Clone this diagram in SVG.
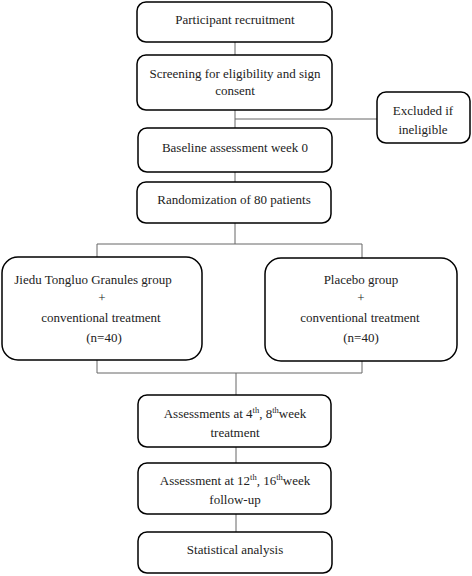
<svg xmlns="http://www.w3.org/2000/svg" width="472" height="576" viewBox="0 0 472 576">
<style>
.box{fill:#fff;stroke:#000;stroke-width:1.5}
.t{font-family:"Liberation Serif","Times New Roman",serif;font-size:13px;fill:#222;text-anchor:middle}
.sup{font-size:8.5px}
.c{stroke:#666;stroke-width:1;fill:none}
</style>
<rect width="472" height="576" fill="#fff"/>
<g id="connectors">
<path class="c" d="M235,42V55M235,110V128M235,119H377M235,172V182M235,223V244M97,244H362M97,244V257M362,244V258M97,360V373M362,361V373M97,373H362M236,373V395M236,447V463M236,514V532"/>
</g>
<g id="n1"><rect class="box" x="137" y="2" width="195" height="40" rx="9"/><text class="t" x="235" y="24">Participant recruitment</text></g>
<g id="n2"><rect class="box" x="137" y="55" width="195" height="55" rx="9"/><text class="t" x="235" y="77.5">Screening for eligibility and sign</text><text class="t" x="235" y="94.5">consent</text></g>
<g id="n3"><rect class="box" x="377" y="92" width="93" height="51" rx="9"/><text class="t" x="423" y="114.5">Excluded if</text><text class="t" x="423" y="133.5">ineligible</text></g>
<g id="n4"><rect class="box" x="138" y="128" width="194" height="44" rx="9"/><text class="t" x="235" y="151.5">Baseline assessment week 0</text></g>
<g id="n5"><rect class="box" x="137" y="182" width="194" height="41" rx="9"/><text class="t" x="234" y="203.5">Randomization of 80 patients</text></g>
<g id="n6"><rect class="box" x="2" y="257" width="200" height="103" rx="16"/><text class="t" x="93" y="283.5">Jiedu Tongluo Granules group</text><text class="t" x="102" y="301.5">+</text><text class="t" x="101" y="321.5">conventional treatment</text><text class="t" x="104" y="341.5">(n=40)</text></g>
<g id="n7"><rect class="box" x="265" y="258" width="192" height="103" rx="16"/><text class="t" x="361" y="283.5">Placebo group</text><text class="t" x="361" y="301.5">+</text><text class="t" x="360" y="321.5">conventional treatment</text><text class="t" x="361" y="341.5">(n=40)</text></g>
<g id="n8"><rect class="box" x="138" y="395" width="193" height="52" rx="9"/><text class="t" x="235" y="417.5">Assessments at 4<tspan class="sup" dy="-5">th</tspan><tspan dy="5">, 8</tspan><tspan class="sup" dy="-5">th</tspan><tspan dy="5">week</tspan></text><text class="t" x="235" y="436.5">treatment</text></g>
<g id="n9"><rect class="box" x="138" y="463" width="193" height="51" rx="9"/><text class="t" x="235" y="484.5">Assessment at 12<tspan class="sup" dy="-5">th</tspan><tspan dy="5">, 16</tspan><tspan class="sup" dy="-5">th</tspan><tspan dy="5">week</tspan></text><text class="t" x="235" y="503.5">follow-up</text></g>
<g id="n10"><rect class="box" x="138" y="532" width="194" height="41" rx="9"/><text class="t" x="235" y="553.5">Statistical analysis</text></g>
</svg>
